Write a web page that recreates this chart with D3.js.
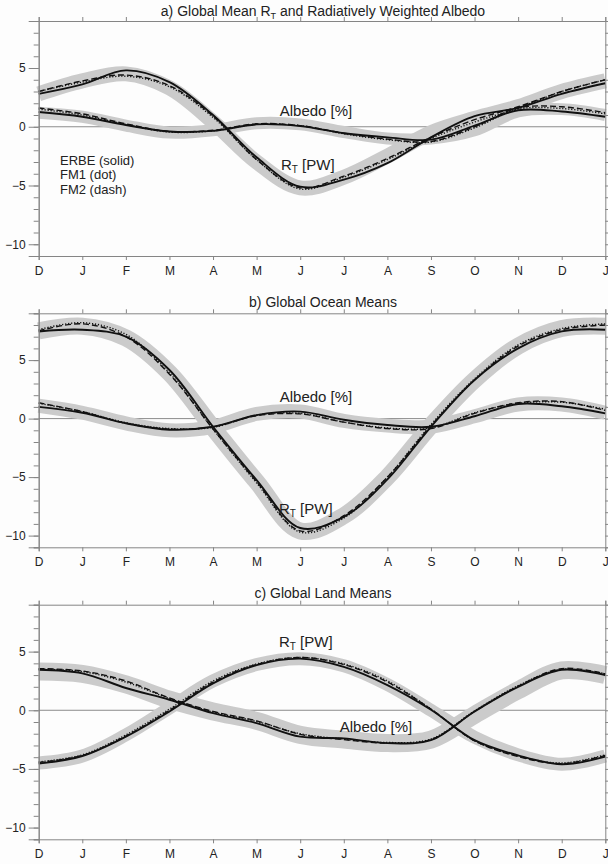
<!DOCTYPE html>
<html>
<head>
<meta charset="utf-8">
<script src="https://cdn.jsdelivr.net/npm/d3@7"></script>
<style>
  html, body { margin: 0; padding: 0; background: #ffffff; }
  svg { display: block; }
  text { font-family: "Liberation Sans", Arial, Helvetica, sans-serif; fill: #222; }
</style>
</head>
<body>
<script>
// ---------- DATA ----------
const monthLabels = ["D","J","F","M","A","M","J","J","A","S","O","N","D","J"];
const yMajorTicks = [-10, -5, 0, 5];

// Panel a) Global Mean
const aRtErbe  = [2.8, 3.6, 4.8, 3.8, 1.0, -2.6, -5.1, -4.5, -3.1, -0.9, 0.9, 1.6, 2.8, 3.7];
const aRtFm1   = [3.0, 3.8, 4.3, 3.4, 0.8, -2.8, -5.3, -4.3, -2.8, -1.0, 0.4, 1.6, 3.0, 4.0];
const aRtFm2   = [3.0, 3.9, 4.4, 3.5, 0.9, -2.8, -5.2, -4.2, -2.7, -0.9, 0.6, 1.7, 3.0, 4.0];
const aRtBand  = [2.8, 3.9, 4.5, 3.3, 0.4, -3.0, -5.2, -4.3, -2.5, -0.5, 0.7, 1.7, 3.0, 3.9];
const aAlbErbe = [1.25, 0.85, 0.15, -0.4, -0.35, 0.2, 0.05, -0.55, -0.9, -1.1, 0.1, 1.4, 1.3, 0.85];
const aAlbFm1  = [1.5, 1.0, 0.2, -0.45, -0.35, 0.2, 0.1, -0.6, -1.1, -1.3, -0.1, 1.5, 1.55, 1.1];
const aAlbFm2  = [1.6, 1.1, 0.25, -0.4, -0.3, 0.25, 0.1, -0.55, -1.05, -1.25, 0.0, 1.6, 1.7, 1.2];
const aAlbBand = [1.2, 0.85, 0.1, -0.5, -0.3, 0.3, 0.2, -0.45, -1.0, -1.0, -0.3, 1.3, 1.5, 1.0];

// Panel b) Global Ocean Means
const bRtErbe  = [7.45, 7.6, 7.0, 4.15, -0.7, -5.25, -9.35, -8.4, -5.2, -0.7, 3.3, 6.0, 7.45, 7.6];
const bRtFm1   = [7.6, 8.2, 7.2, 3.9, -0.9, -5.5, -9.7, -8.5, -5.0, -0.5, 3.4, 6.3, 7.7, 8.1];
const bRtFm2   = [7.5, 8.1, 7.0, 3.8, -0.9, -5.4, -9.6, -8.3, -5.0, -0.6, 3.3, 6.2, 7.6, 8.0];
const bRtBand  = [7.5, 7.9, 6.9, 3.9, -0.8, -5.4, -9.6, -8.3, -5.0, -0.6, 3.3, 6.2, 7.7, 7.9];
const bAlbErbe = [1.0, 0.5, -0.4, -0.95, -0.7, 0.3, 0.6, -0.1, -0.55, -0.7, 0.2, 1.25, 1.05, 0.45];
const bAlbFm1  = [1.3, 0.6, -0.35, -0.85, -0.75, 0.3, 0.45, -0.3, -0.8, -0.8, 0.5, 1.3, 1.4, 0.8];
const bAlbFm2  = [1.35, 0.6, -0.4, -0.9, -0.7, 0.25, 0.4, -0.3, -0.85, -0.85, 0.45, 1.35, 1.45, 0.7];
const bAlbBand = [1.1, 0.5, -0.4, -1.0, -0.7, 0.4, 0.6, -0.2, -0.6, -0.7, 0.2, 1.2, 1.2, 0.5];

// Panel c) Global Land Means
const cRtErbe  = [-4.55, -3.9, -2.25, -0.1, 2.3, 3.85, 4.4, 3.7, 2.15, 0.05, -2.55, -3.85, -4.6, -3.95];
const cRtFm1   = [-4.4, -3.8, -2.1, 0.1, 2.5, 3.95, 4.5, 3.95, 2.5, 0.1, -2.6, -3.9, -4.5, -3.8];
const cRtFm2   = [-4.45, -3.85, -2.2, 0.0, 2.4, 3.9, 4.5, 3.9, 2.4, 0.1, -2.6, -3.95, -4.55, -3.85];
const cRtBand  = [-4.5, -3.9, -2.1, 0.2, 2.5, 3.9, 4.4, 3.8, 2.2, 0.0, -2.3, -3.8, -4.6, -3.9];
const cAlbErbe = [3.45, 3.15, 1.9, 0.9, -0.25, -1.1, -2.25, -2.4, -2.8, -2.55, -0.1, 2.0, 3.45, 3.0];
const cAlbFm1  = [3.5, 3.3, 2.4, 1.0, -0.15, -0.95, -2.0, -2.45, -2.75, -2.45, -0.05, 2.1, 3.5, 3.1];
const cAlbFm2  = [3.55, 3.35, 2.5, 1.05, -0.1, -0.9, -2.05, -2.5, -2.8, -2.5, -0.1, 2.05, 3.55, 3.1];
const cAlbBand = [3.3, 3.1, 2.2, 0.9, -0.1, -0.9, -2.1, -2.5, -2.8, -2.5, -0.4, 1.7, 3.4, 3.0];

// ---------- LAYOUT ----------
const W = 608, H = 864;
const left = 38.7, right = 605.3;

const panels = [
  { title: ["a) Global Mean R", "T", " and Radiatively Weighted Albedo"], titleY: 16, top: 21, bottom: 256,
    rt: [aRtBand, aRtErbe, aRtFm1, aRtFm2], alb: [aAlbBand, aAlbErbe, aAlbFm1, aAlbFm2],
    rtBandW: 15, albBandW: 12,
    albLabel: { x: 316, y: 115.5, anchor: "middle" }, rtLabel: { x: 281, y: 170 }, legend: true },
  { title: ["b) Global Ocean Means"], titleY: 306.5, top: 313.3, bottom: 547.3,
    rt: [bRtBand, bRtErbe, bRtFm1, bRtFm2], alb: [bAlbBand, bAlbErbe, bAlbFm1, bAlbFm2],
    rtBandW: 17, albBandW: 14,
    albLabel: { x: 316, y: 402, anchor: "middle" }, rtLabel: { x: 279, y: 514 }, legend: false },
  { title: ["c) Global Land Means"], titleY: 598, top: 604.7, bottom: 839.3,
    rt: [cRtBand, cRtErbe, cRtFm1, cRtFm2], alb: [cAlbBand, cAlbErbe, cAlbFm1, cAlbFm2],
    rtBandW: 13, albBandW: 18,
    albLabel: { x: 376, y: 732, anchor: "middle" }, rtLabel: { x: 279, y: 647 }, legend: false }
];

const svg = d3.select("body").append("svg").attr("width", W).attr("height", H);
svg.append("rect").attr("width", W).attr("height", H).attr("fill", "#fdfdfd");

const x = d3.scaleLinear().domain([0, monthLabels.length - 1]).range([left, right]);
const idx = d3.range(monthLabels.length);
const axisColor = "#858585";

function styleAxis(g) {
  g.select(".domain").attr("stroke", axisColor).attr("stroke-width", 1);
  g.selectAll(".tick line").attr("stroke", axisColor).attr("stroke-width", 1);
  g.selectAll(".tick text").attr("fill", "#2a2a2a").style("font-size", "12px")
    .style("font-family", "'Liberation Sans', Arial, Helvetica, sans-serif");
}

panels.forEach(p => {
  const y = d3.scaleLinear().domain([-11, 9]).range([p.bottom, p.top]);
  const g = svg.append("g");

  // title
  const t = g.append("text").attr("x", 323).attr("y", p.titleY).attr("text-anchor", "middle")
    .style("font-size", "14px");
  t.append("tspan").text(p.title[0]);
  if (p.title.length > 1) {
    t.append("tspan").text(p.title[1]).attr("dy", 3).style("font-size", "9px");
    t.append("tspan").text(p.title[2]).attr("dy", -3);
  }

  // zero line
  g.append("line").attr("x1", left).attr("x2", right).attr("y1", y(0)).attr("y2", y(0))
    .attr("stroke", "#8c8c8c").attr("stroke-width", 1);

  const line = d3.line().x(i => x(i)).curve(d3.curveCatmullRom.alpha(0.5));

  // bands
  [[p.rt[0], p.rtBandW], [p.alb[0], p.albBandW]].forEach(([arr, w]) => {
    g.append("path").datum(idx).attr("d", line.y(i => y(arr[i])))
      .attr("fill", "none").attr("stroke", "#cbcbcb").attr("stroke-width", w)
      .attr("stroke-linecap", "butt").attr("stroke-linejoin", "round");
  });

  // FM1 (dot), FM2 (dash), ERBE (solid)
  [p.rt, p.alb].forEach(set => {
    g.append("path").datum(idx).attr("d", line.y(i => y(set[2][i])))
      .attr("fill", "none").attr("stroke", "#111").attr("stroke-width", 1.4)
      .attr("stroke-dasharray", "1.2,1.8");
    g.append("path").datum(idx).attr("d", line.y(i => y(set[3][i])))
      .attr("fill", "none").attr("stroke", "#111").attr("stroke-width", 1.4)
      .attr("stroke-dasharray", "6,3");
    g.append("path").datum(idx).attr("d", line.y(i => y(set[1][i])))
      .attr("fill", "none").attr("stroke", "#111").attr("stroke-width", 1.9);
  });

  // axes: bottom with labels
  const gb = g.append("g").attr("transform", `translate(0,${p.bottom})`)
    .call(d3.axisBottom(x).tickValues(idx).tickSize(4).tickPadding(6.5)
      .tickFormat(i => monthLabels[i]));
  styleAxis(gb);
  // top
  const gt = g.append("g").attr("transform", `translate(0,${p.top})`)
    .call(d3.axisTop(x).tickValues(idx).tickSize(4).tickFormat(""));
  styleAxis(gt);
  // left minor & major
  const glm = g.append("g").attr("transform", `translate(${left},0)`)
    .call(d3.axisLeft(y).tickValues(d3.range(-11, 10)).tickSize(5).tickFormat(""));
  styleAxis(glm);
  const gl = g.append("g").attr("transform", `translate(${left},0)`)
    .call(d3.axisLeft(y).tickValues(yMajorTicks).tickSize(10).tickPadding(3).tickFormat(d3.format("d")));
  styleAxis(gl);
  // right
  const grm = g.append("g").attr("transform", `translate(${right},0)`)
    .call(d3.axisRight(y).tickValues(d3.range(-11, 10)).tickSize(4).tickFormat(""));
  styleAxis(grm);

  // curve labels
  g.append("text").attr("x", p.albLabel.x).attr("y", p.albLabel.y).attr("text-anchor", p.albLabel.anchor)
    .style("font-size", "15px").text("Albedo [%]");
  const rl = g.append("text").attr("x", p.rtLabel.x).attr("y", p.rtLabel.y).style("font-size", "15px");
  rl.append("tspan").text("R");
  rl.append("tspan").text("T").attr("dy", 3).style("font-size", "10px");
  rl.append("tspan").text(" [PW]").attr("dy", -3);

  if (p.legend) {
    ["ERBE (solid)", "FM1 (dot)", "FM2 (dash)"].forEach((s, k) => {
      g.append("text").attr("x", 60).attr("y", 164.5 + k * 14.5).style("font-size", "13px").text(s);
    });
  }
});
</script>
</body>
</html>
